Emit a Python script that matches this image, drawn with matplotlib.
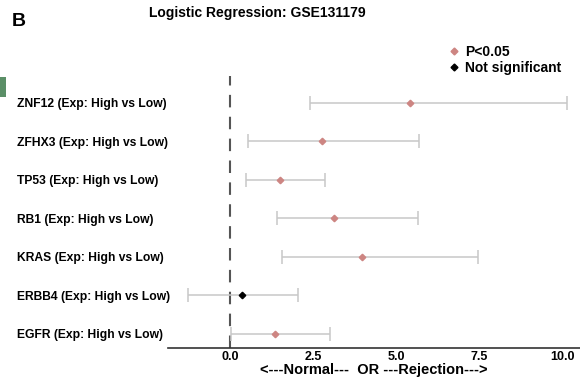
import matplotlib.pyplot as plt
from matplotlib.lines import Line2D
from matplotlib.patches import Rectangle

plt.rcParams['font.family'] = ['Liberation Sans', 'DejaVu Sans']
plt.rcParams['font.weight'] = 'bold'

genes = ['EGFR', 'ERBB4', 'KRAS', 'RB1', 'TP53', 'ZFHX3', 'ZNF12']
odds = [1.35, 0.36, 3.98, 3.13, 1.51, 2.78, 5.41]
ci_low = [0.02, -1.27, 1.58, 1.43, 0.48, 0.56, 2.42]
ci_high = [3.01, 2.04, 7.45, 5.67, 2.87, 5.69, 10.14]
significant = [True, False, True, True, True, True, True]

labels = [g + ' (Exp: High vs Low)' for g in genes]
sig_color = '#cd8582'

fig = plt.figure(figsize=(5.8, 3.81), dpi=100)
ax = fig.add_axes([168 / 580, 1 - 348 / 381, 412 / 580, 272 / 381])

for i in range(len(genes)):
    ax.errorbar(odds[i], i, xerr=[[odds[i] - ci_low[i]], [ci_high[i] - odds[i]]],
                fmt='none', ecolor='#c8c8c8', elinewidth=1.1, capsize=5, capthick=1.1, zorder=2)
    ax.plot(odds[i], i, marker='D', markersize=3.3, linestyle='none',
            color=sig_color if significant[i] else 'black', zorder=3)

ax.axvline(0, color='#555555', linestyle=(0, (6, 4.5)), linewidth=1.5, zorder=1)

ax.set_yticks(range(len(genes)))
ax.set_yticklabels(labels, fontsize=8.7, fontweight='bold')
ax.tick_params(axis='y', length=0, pad=0)
for lab in ax.get_yticklabels():
    lab.set_horizontalalignment('left')
    lab.set_x(-151 / 412)

ax.set_xticks([0, 2.5, 5, 7.5, 10])
ax.set_xticklabels(['0.0', '2.5', '5.0', '7.5', '10.0'], fontsize=9, fontweight='bold')
ax.tick_params(axis='x', length=0, pad=2.5)
ax.set_xlim(-1.86, 10.53)
ax.set_ylim(-0.364, 6.70)
ax.set_xlabel('<---Normal---  OR ---Rejection--->', fontsize=10.5, fontweight='bold', labelpad=0)

for side in ['top', 'right', 'left']:
    ax.spines[side].set_visible(False)
ax.spines['bottom'].set_color('#333333')
ax.spines['bottom'].set_linewidth(1.2)

handles = [Line2D([], [], marker='D', color=sig_color, linestyle='none', markersize=3.5),
           Line2D([], [], marker='D', color='black', linestyle='none', markersize=3.5)]
fig.legend(handles, ['P<0.05', 'Not significant'], loc='upper left',
           bbox_to_anchor=(440 / 580, 1 - 39 / 381), frameon=False,
           prop={'size': 10, 'weight': 'bold'}, handletextpad=0.2,
           labelspacing=0.15, handlelength=1.2, borderaxespad=0)

fig.text(257 / 580, 1 - 13 / 381, 'Logistic Regression: GSE131179', ha='center', va='center',
         fontsize=10, fontweight='bold')
fig.text(12 / 580, 1 - 21 / 381, 'B', ha='left', va='center', fontsize=14, fontweight='bold')
fig.patches.append(Rectangle((0, 1 - 97 / 381), 6 / 580, 20 / 381, transform=fig.transFigure,
                             facecolor='#5b8f67', edgecolor='none'))

fig.savefig('out.png', dpi=100)
